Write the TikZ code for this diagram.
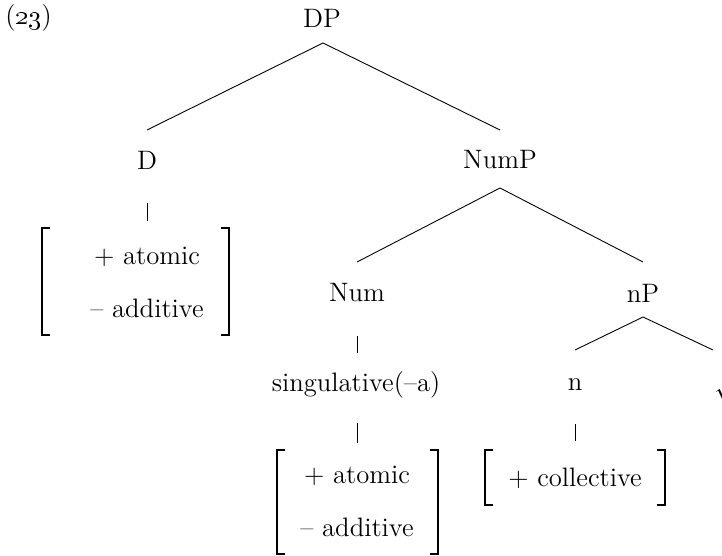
\documentclass[tikz,border=0pt]{standalone}
\usetikzlibrary{calc}
\begin{document}
\begin{tikzpicture}[x=0.45pt,y=-0.45pt,
  every node/.style={font=\fontsize{12}{14}\selectfont},
  lbl/.style={inner sep=0pt,anchor=center},
  edge/.style={line width=0.4pt},
  brk/.style={line width=0.8pt}]
\useasboundingbox (0,0) rectangle (722,556);

% example number
\node[lbl,anchor=west] (ex) at (5,18) {(\oldstylenums{23})};

% tree labels
\node[lbl] (DP)   at (322,18)  {DP};
\node[lbl] (D)    at (147,160) {D};
\node[lbl] (NumP) at (500,160) {NumP};
\node[lbl] (Num)  at (357,293) {Num};
\node[lbl] (nP)   at (643,293) {nP};
\node[lbl] (sg)   at (356,385) {singulative(--a)};
\node[lbl] (n)    at (575,385) {n};
\node[lbl,anchor=west] (rt) at (714,390) {$\surd$};

% branches
\draw[edge] ($(DP)+(1,25)$) -- ($(D)+(0,-30)$);
\draw[edge] ($(DP)+(1,25)$) -- ($(NumP)+(0,-30)$);
\draw[edge] ($(NumP)+(0,28)$) -- ($(Num)+(0,-31)$);
\draw[edge] ($(NumP)+(0,28)$) -- ($(nP)+(0,-31)$);
\draw[edge] ($(nP)+(0,24)$) -- ($(n)+(0,-35)$);
\draw[edge] ($(nP)+(0,24)$) -- ($(rt.west)+(-1,-40)$);

% feature bundle of D
\node[lbl] (Da) at (147,257) {+ atomic};
\node[lbl] (Db) at (147,308) {-- additive};
\draw[edge] ($(D)+(0,43)$) -- ($(Da)+(0,-36)$);
\draw[brk] (50,228) -- (42,228) -- (42,335) -- (50,335);
\draw[brk] (221,228) -- (229,228) -- (229,335) -- (221,335);

% feature bundle of Num
\node[lbl] (Na) at (357,476) {+ atomic};
\node[lbl] (Nb) at (357,527) {-- additive};
\draw[edge] ($(Num)+(0,43)$) -- ($(Num)+(0,60)$);
\draw[edge] ($(sg)+(1,38)$) -- ($(Na)+(0,-33)$);
\draw[brk] (285,450) -- (277,450) -- (277,554) -- (285,554);
\draw[brk] (430,450) -- (438,450) -- (438,554) -- (430,554);

% feature bundle of n
\node[lbl] (nc) at (575,478) {+ collective};
\draw[edge] ($(n)+(0,39)$) -- ($(nc)+(0,-37)$);
\draw[brk] (493,450) -- (485,450) -- (485,505) -- (493,505);
\draw[brk] (657,450) -- (665,450) -- (665,505) -- (657,505);
\end{tikzpicture}
\end{document}
